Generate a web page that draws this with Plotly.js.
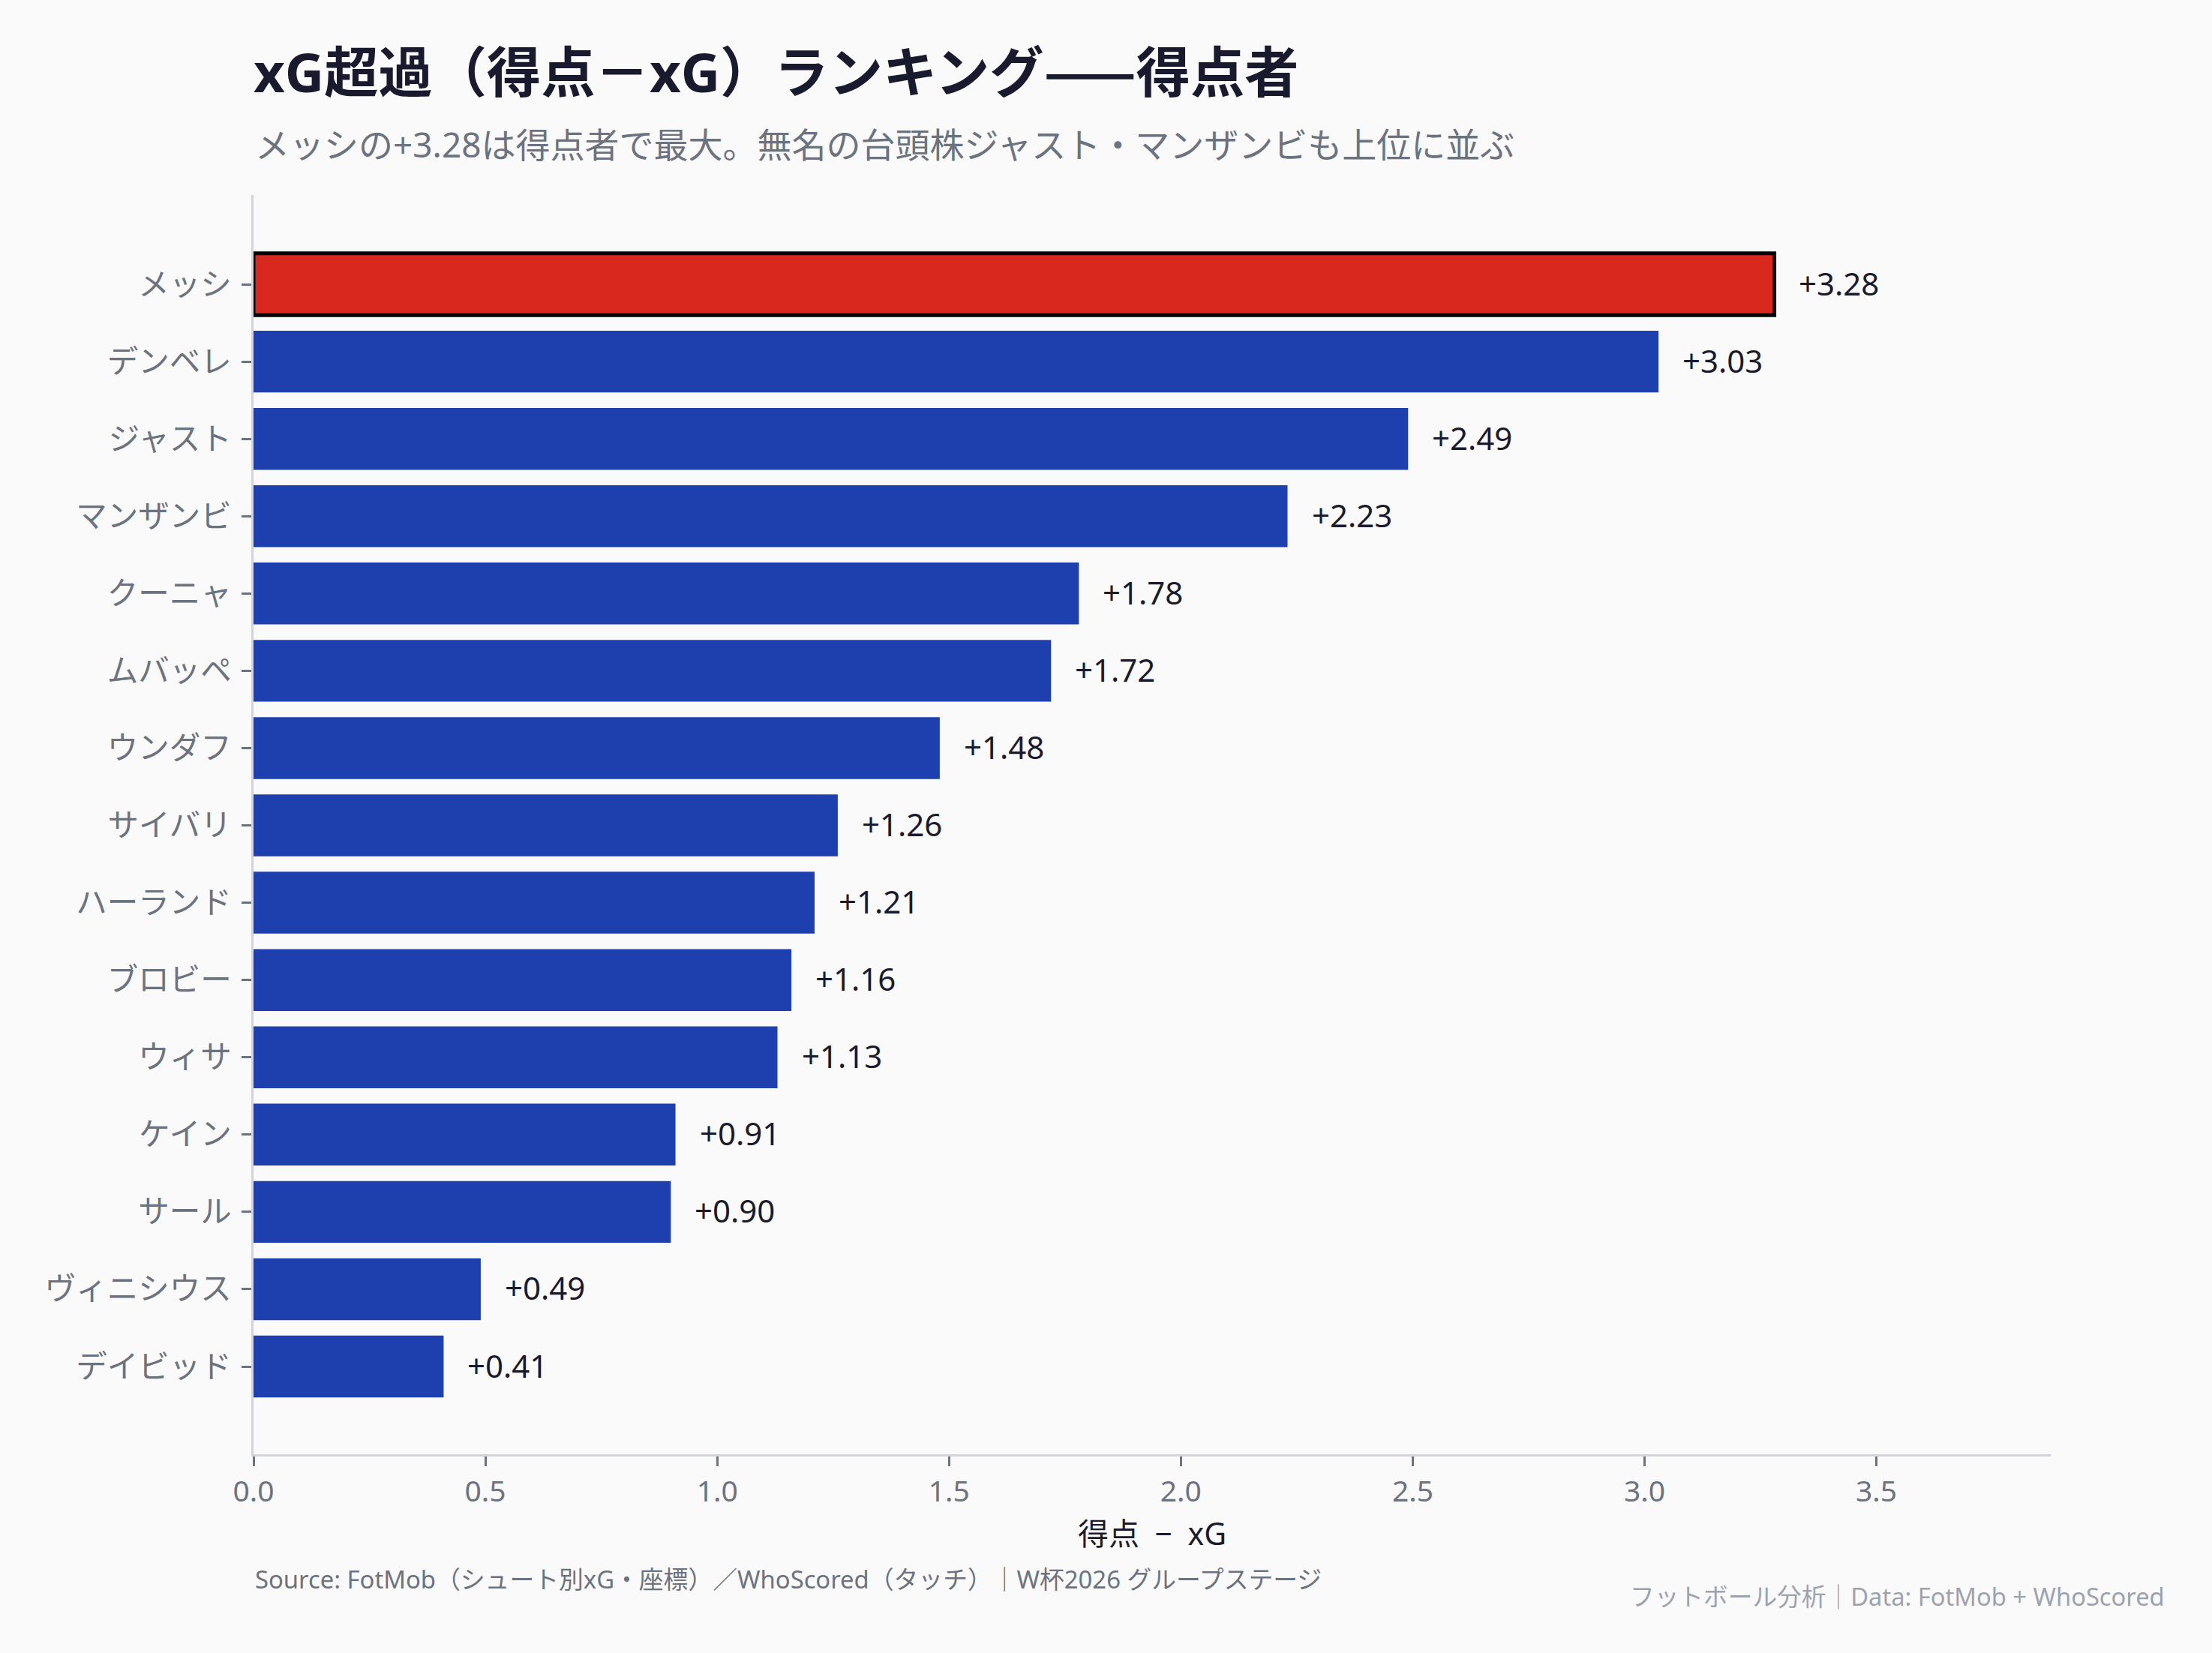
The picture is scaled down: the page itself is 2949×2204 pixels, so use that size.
<!DOCTYPE html>
<html>
<head>
<meta charset="utf-8">
<script src="https://cdn.plot.ly/plotly-3.0.1.min.js"></script>
<style>
html,body{margin:0;padding:0;background:#FAFAFA;}
#chart{width:2949px;height:2204px;}
</style>
</head>
<body>
<div id="chart"></div>
<script>
const players = ["メッシ","デンベレ","ジャスト","マンザンビ","クーニャ","ムバッペ","ウンダフ","サイバリ","ハーランド","ブロビー","ウィサ","ケイン","サール","ヴィニシウス","デイビッド"];
const excess = [3.28,3.03,2.49,2.23,1.78,1.72,1.48,1.26,1.21,1.16,1.13,0.91,0.90,0.49,0.41];
const xTicks = [0,0.5,1.0,1.5,2.0,2.5,3.0,3.5];
const xTickLabels = ["0.0","0.5","1.0","1.5","2.0","2.5","3.0","3.5"];
const highlight = "メッシ";

const FONT = "'Noto Sans', 'Noto Sans CJK JP', sans-serif";
const CJK = "'Noto Sans CJK JP'";
const RED = "#D9281D", BLUE = "#1E40AF";

const colors = players.map(p => p === highlight ? RED : BLUE);
const lineW = players.map(p => p === highlight ? 5 : 0);
const labels = excess.map(v => (v >= 0 ? "+" : "") + v.toFixed(2));

const trace = {
  type: "bar",
  orientation: "h",
  x: excess,
  y: players,
  marker: {color: colors, line: {color: "#000000", width: lineW}},
  width: 0.8,
  hoverinfo: "skip"
};

const annotations = players.map((p, i) => ({
  x: excess[i], y: p, xref: "x", yref: "y",
  text: labels[i], showarrow: false,
  xanchor: "left", yanchor: "middle", xshift: 30, yshift: 2,
  font: {family: FONT, size: 42, color: "#1A1A2E"}
}));

annotations.push({
  xref: "paper", yref: "paper", x: 0, y: 1.0405,
  xanchor: "left", yanchor: "middle", showarrow: false,
  text: "メッシの+3.28は得点者で最大。無名の台頭株ジャスト・マンザンビも上位に並ぶ",
  font: {family: FONT, size: 46, color: "#6B7280"}
});
annotations.push({
  xref: "paper", yref: "paper", x: 0, y: (1939 - 2105) / 1679,
  xanchor: "left", yanchor: "middle", showarrow: false,
  text: "Source: FotMob（シュート別xG・座標）／WhoScored（タッチ）｜W杯2026 グループステージ",
  font: {family: FONT, size: 32.8, color: "#6B7280"}
});
annotations.push({
  xref: "paper", yref: "paper", x: (2888 - 338) / 2396, y: (1939 - 2128) / 1679,
  xanchor: "right", yanchor: "middle", showarrow: false,
  text: "フットボール分析｜Data: FotMob + WhoScored",
  font: {family: FONT, size: 32.7, color: "#9CA3AF"}
});

const layout = {
  width: 2949, height: 2204,
  paper_bgcolor: "#FAFAFA", plot_bgcolor: "#FAFAFA",
  margin: {l: 338, r: 215, t: 260, b: 265, pad: 0},
  showlegend: false,
  font: {family: FONT, color: "#1A1A2E"},
  title: {
    text: "<b>xG超過（得点－xG）ランキング<span style=\"font-family:" + CJK + "\">——</span>得点者</b>",
    x: 0, xref: "paper", xanchor: "left",
    y: 1 - 98 / 2204, yref: "container", yanchor: "middle",
    font: {family: FONT, size: 72.3, color: "#1A1A2E"}
  },
  xaxis: {
    range: [0, 3.876],
    tickvals: xTicks, ticktext: xTickLabels,
    showgrid: false, zeroline: false,
    showline: true, linecolor: "#D1D5DB", linewidth: 3,
    ticks: "outside", ticklen: 13, tickwidth: 3, tickcolor: "#6B7280",
    tickfont: {family: FONT, size: 39, color: "#6B7280"},
    title: {text: "得点\u2002−\u2002xG", font: {family: FONT, size: 41, color: "#1A1A2E"}, standoff: 20}
  },
  yaxis: {
    type: "category",
    range: [15.135, -1.155],
    showgrid: false, zeroline: false,
    showline: true, linecolor: "#D1D5DB", linewidth: 3,
    ticks: "outside", ticklen: 13, tickwidth: 3, tickcolor: "#6B7280",
    tickfont: {family: FONT, size: 41.5, color: "#6B7280"},
    ticklabelstandoff: 5
  },
  annotations: annotations
};

Plotly.newPlot("chart", [trace], layout, {displayModeBar: false, staticPlot: true});
</script>
</body>
</html>
